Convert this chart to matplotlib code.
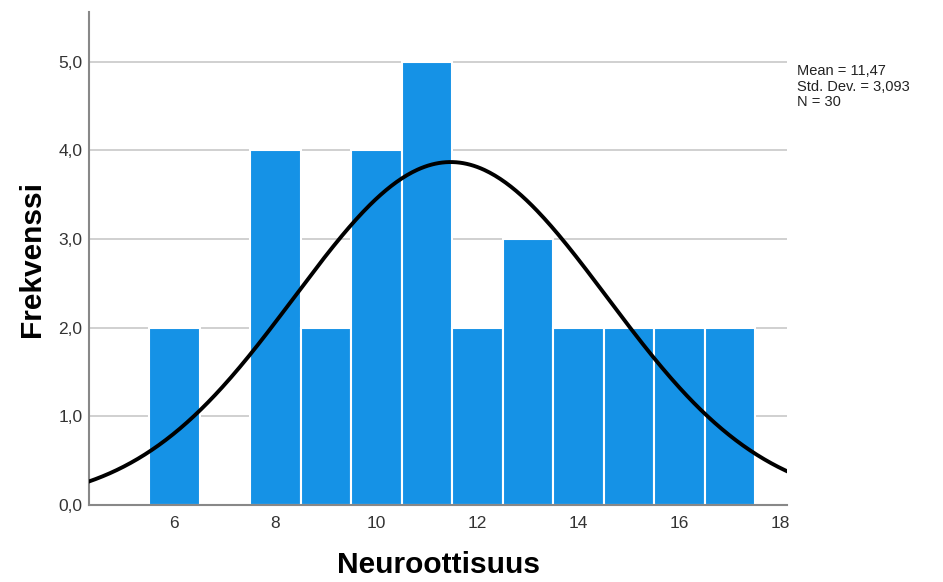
import numpy as np
import matplotlib.pyplot as plt
from matplotlib.ticker import FuncFormatter

plt.rcParams['font.family'] = ['Liberation Sans', 'DejaVu Sans']

# histogram data (value -> frequency)
values = [6, 8, 9, 10, 11, 12, 13, 14, 15, 16, 17]
counts = [2, 4, 2, 4, 5, 2, 3, 2, 2, 2, 2]
x_ticks = [6, 8, 10, 12, 14, 16, 18]
y_ticks = [0, 1, 2, 3, 4, 5]

mean = 11.47
sd = 3.093
n = 30

fig = plt.figure(figsize=(9.43, 5.82), dpi=100)
ax = fig.add_axes([0.0949, 0.1323, 0.7397, 0.8467])

ax.bar(values, counts, width=1.0, color='#1592e6', edgecolor='white',
       linewidth=1.5, zorder=2)

xs = np.linspace(4.3, 18.2, 400)
pdf = n * 1.0 / (sd * np.sqrt(2 * np.pi)) * np.exp(-0.5 * ((xs - mean) / sd) ** 2)
ax.plot(xs, pdf, color='black', linewidth=2.8, zorder=3)

ax.set_xlim(4.32, 18.13)
ax.set_ylim(0, 5.56)
ax.set_xticks(x_ticks)
ax.set_yticks(y_ticks)
ax.yaxis.set_major_formatter(FuncFormatter(lambda v, p: f"{v:.1f}".replace('.', ',')))
ax.tick_params(length=0, labelsize=12.5, colors='#333333', pad=5)
ax.tick_params(axis='x', pad=8)
ax.grid(axis='y', color='#c8c8c8', linewidth=1.2, zorder=0)
ax.set_axisbelow(True)

for s in ['top', 'right']:
    ax.spines[s].set_visible(False)
for s in ['left', 'bottom']:
    ax.spines[s].set_color('#888888')
    ax.spines[s].set_linewidth(1.5)

ax.set_xlabel('Neuroottisuus', fontsize=21.5, fontweight='bold', labelpad=14)
ax.set_ylabel('Frekvenssi', fontsize=21.5, fontweight='bold', labelpad=9)

stats = f"Mean = {mean:.2f}\nStd. Dev. = {sd:.3f}\nN = {n}".replace('.', ',').replace('Std, Dev,', 'Std. Dev.')
fig.text(797 / 943, 1 - 64 / 582, stats, fontsize=10.5, va='top', ha='left',
         color='#222222', linespacing=1.15)

fig.savefig('out.png', dpi=100)
